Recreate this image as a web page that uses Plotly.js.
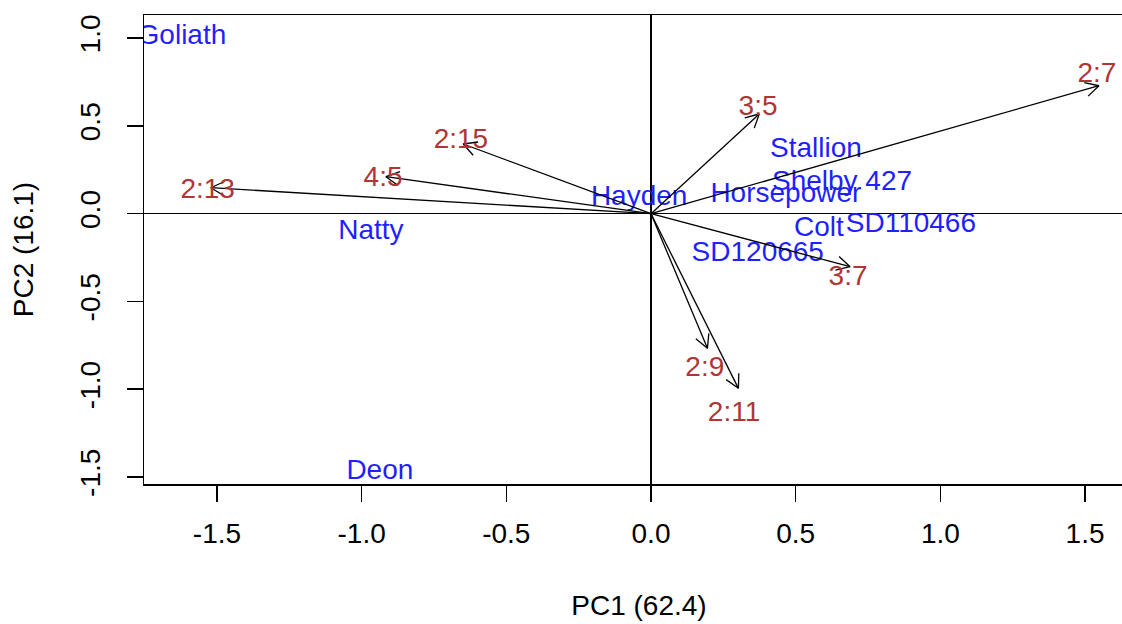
<!DOCTYPE html>
<html><head><meta charset="utf-8">
<script src="https://cdn.plot.ly/plotly-3.0.1.min.js"></script>
<style>html,body{margin:0;padding:0;overflow:hidden;background:#fff}#chart{width:1134px;height:624px}</style>
</head><body><div id="chart"></div>
<script>
const obsLabels = ["Goliath","Natty","Hayden","Horsepower","Stallion","Shelby 427","Colt","SD110466","SD120665","Deon"];
const obsX = [-1.621,-0.968,-0.041,0.466,0.570,0.660,0.580,0.898,0.369,-0.937];
const obsY = [1.024,-0.087,0.107,0.126,0.382,0.192,-0.070,-0.047,-0.213,-1.455];
const varLabels = ["2:13","4:5","2:15","3:5","2:7","3:7","2:9","2:11"];
const arrowX = [-1.521,-0.916,-0.649,0.374,1.548,0.688,0.195,0.302];
const arrowY = [0.148,0.211,0.397,0.568,0.729,-0.302,-0.767,-0.995];
const varLabelX = [-1.532,-0.926,-0.657,0.370,1.541,0.681,0.186,0.287];
const varLabelY = [0.149,0.215,0.434,0.619,0.810,-0.351,-0.868,-1.124];
const xTicks = [-1.5,-1.0,-0.5,0.0,0.5,1.0,1.5];
const xTickText = ["-1.5","-1.0","-0.5","0.0","0.5","1.0","1.5"];
const yTicks = [-1.5,-1.0,-0.5,0.0,0.5,1.0];
const yTickText = ["-1.5","-1.0","-0.5","0.0","0.5","1.0"];
const xTitle = "PC1 (62.4)";
const yTitle = "PC2 (16.1)";

const W = 1134, H = 624;
const margin = {l:144, r:0, t:15, b:140};
const xRange = [-1.752, 1.669];
const yRange = [-1.540, 1.132];
const pxPerX = (W - margin.l - margin.r) / (xRange[1] - xRange[0]);
const pxPerY = (H - margin.t - margin.b) / (yRange[1] - yRange[0]);

const FONT = "Liberation Sans, Arial, sans-serif";
const FS = 28;
// small vertical nudge so text glyphs centre like R's text()
const textNudge = 3 / pxPerY;

// arrow shafts and open heads
const shaftX = [], shaftY = [], headX = [], headY = [];
const headLen = 15, headAng = 28 * Math.PI / 180;
for (let i = 0; i < arrowX.length; i++) {
  shaftX.push(0, arrowX[i], null);
  shaftY.push(0, arrowY[i], null);
  const dx = arrowX[i] * pxPerX, dy = -arrowY[i] * pxPerY;
  const a = Math.atan2(dy, dx);
  const pts = [a + Math.PI - headAng, a + Math.PI + headAng];
  const p1 = [arrowX[i] + headLen * Math.cos(pts[0]) / pxPerX, arrowY[i] - headLen * Math.sin(pts[0]) / pxPerY];
  const p2 = [arrowX[i] + headLen * Math.cos(pts[1]) / pxPerX, arrowY[i] - headLen * Math.sin(pts[1]) / pxPerY];
  headX.push(p1[0], arrowX[i], p2[0], null);
  headY.push(p1[1], arrowY[i], p2[1], null);
}

const traces = [
  {x: obsX, y: obsY.map(v => v - textNudge), text: obsLabels, mode: "text", type: "scatter",
   textposition: "middle center", textfont: {family: FONT, size: FS, color: "#1f1fff"},
   hoverinfo: "text", cliponaxis: true},
  {x: shaftX, y: shaftY, mode: "lines", type: "scatter", line: {color: "#000", width: 1.3}, hoverinfo: "skip"},
  {x: headX, y: headY, mode: "lines", type: "scatter", line: {color: "#000", width: 1.3}, hoverinfo: "skip"},
  {x: varLabelX, y: varLabelY.map(v => v - textNudge), text: varLabels, mode: "text", type: "scatter",
   textposition: "middle center", textfont: {family: FONT, size: FS, color: "#b03535"},
   hoverinfo: "text", cliponaxis: true}
];

const axisCommon = {
  showgrid: false, zeroline: true, zerolinecolor: "#000", zerolinewidth: 1.5,
  showline: true, linecolor: "#000", linewidth: 1.5, mirror: true,
  ticks: "outside", ticklen: 16, tickwidth: 1.5, tickcolor: "#000",
  tickfont: {family: FONT, size: FS, color: "#000"}, tickmode: "array", fixedrange: true
};

const layout = {
  width: W, height: H, margin: margin, showlegend: false,
  paper_bgcolor: "#fff", plot_bgcolor: "#fff",
  xaxis: Object.assign({}, axisCommon, {range: xRange, tickvals: xTicks, ticktext: xTickText,
    ticklabelstandoff: 8,
    title: {text: xTitle, font: {family: FONT, size: FS, color: "#000"}, standoff: 47}}),
  yaxis: Object.assign({}, axisCommon, {range: yRange, tickvals: yTicks, ticktext: yTickText,
    tickangle: -90, ticklabelstandoff: 15,
    title: {text: yTitle, font: {family: FONT, size: FS, color: "#000"}, standoff: 33}})
};

Plotly.newPlot("chart", traces, layout, {displayModeBar: false, staticPlot: true});
</script>
</body></html>
